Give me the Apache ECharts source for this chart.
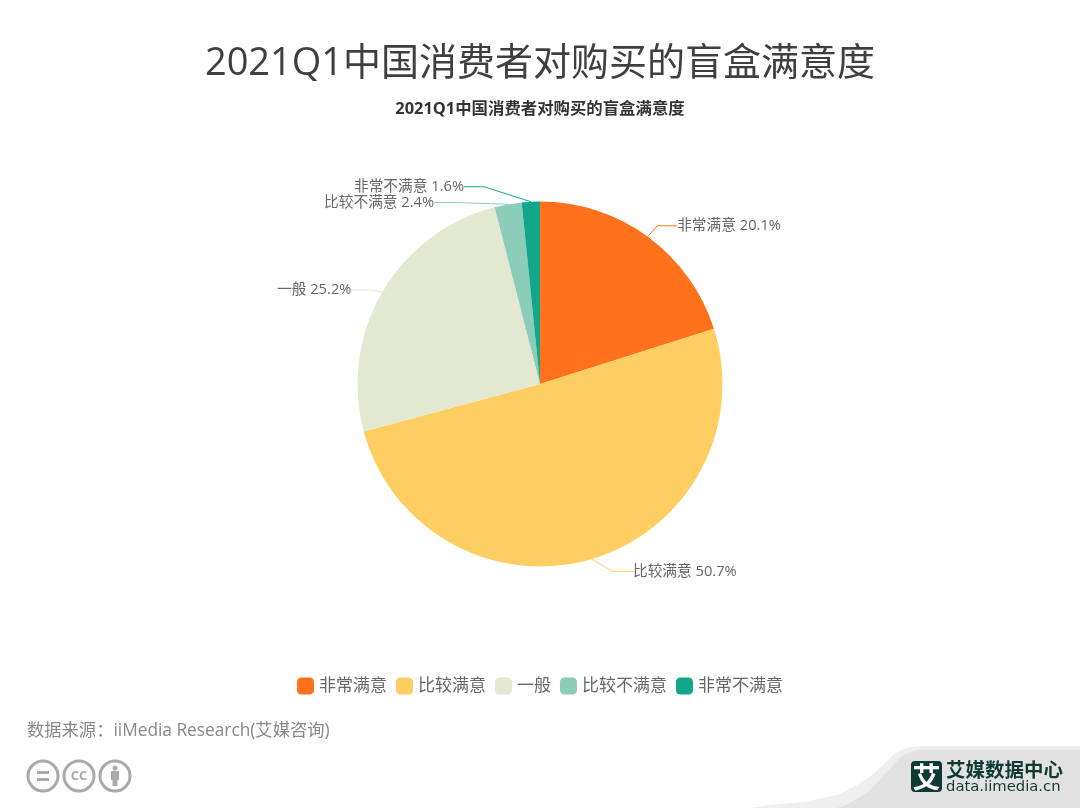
<!DOCTYPE html>
<html><head><meta charset="utf-8">
<style>html,body{margin:0;padding:0;background:#fff}#c{width:1080px;height:808px}</style>
<script src="https://cdn.jsdelivr.net/npm/echarts@6/dist/echarts.min.js"></script>
</head><body><div id="c"></div>
<script>
const categories = ['非常满意','比较满意','一般','比较不满意','非常不满意'];
const values = [20.1,50.7,25.2,2.4,1.6];
const colors = ['#ff711b','#ffce62','#e2e9d0','#8bcdb8','#12a68a'];
const titleText = '2021Q1中国消费者对购买的盲盒满意度';
const sourceText = '数据来源：iiMedia Research(艾媒咨询)';
const FF = '"Open Sans","Noto Sans CJK SC",sans-serif';
const labelShift = [[-17,2],[0,-3],[15,6],[7,0],[-29,1]];
const chart = echarts.init(document.getElementById('c'));
chart.setOption({
  animation:false,
  color:colors,
  title:[
    {text:titleText,left:'center',top:40,textStyle:{fontFamily:FF,fontSize:38,fontWeight:'normal',color:'#3f3f3f'}},
    {text:titleText,left:'center',top:96,textStyle:{fontFamily:FF,fontSize:16.4,fontWeight:'bold',color:'#333'}}
  ],
  legend:{
    data:categories,left:'center',top:672.5,itemWidth:17,itemHeight:17,itemGap:9,icon:'roundRect',
    textStyle:{fontFamily:FF,fontSize:17,color:'#666'}
  },
  series:[{
    type:'pie',center:[540,384],radius:[0,182.5],startAngle:90,
    label:{formatter:'{b} {c}%',fontFamily:FF,fontSize:14.7,color:'#666',padding:[0,6]},
    labelLine:{length:16,length2:20,lineStyle:{width:1}},
    labelLayout:p=>{
      const s=labelShift[p.dataIndex], r=p.labelRect;
      const isRight=p.align==='right';
      return {x:(isRight?r.x+r.width:r.x)+s[0], y:r.y+r.height/2+s[1]};
    },
    emphasis:{disabled:true},
    data:categories.map((n,i)=>({name:n,value:values[i]}))
  }],
  graphic:[
    {type:'text',x:27,y:731,style:{text:sourceText,verticalAlign:'middle',fontFamily:FF,fontSize:17.3,fill:'#888'}},
    {type:'circle',shape:{cx:43,cy:776,r:15},style:{fill:'#fff',stroke:'#aaa',lineWidth:3}},
    {type:'rect',shape:{x:37,y:771,width:12,height:3},style:{fill:'#aaa'}},
    {type:'rect',shape:{x:37,y:778,width:12,height:3},style:{fill:'#aaa'}},
    {type:'circle',shape:{cx:79,cy:776,r:15},style:{fill:'#fff',stroke:'#aaa',lineWidth:3}},
    {type:'text',x:79,y:776,style:{text:'CC',align:'center',verticalAlign:'middle',fontFamily:'"Open Sans"',fontWeight:'bold',fontSize:13,fill:'#aaa'}},
    {type:'circle',shape:{cx:115,cy:776,r:15},style:{fill:'#fff',stroke:'#aaa',lineWidth:3}},
    {type:'circle',shape:{cx:115,cy:768,r:2.5},style:{fill:'#aaa'}},
    {type:'rect',shape:{x:111,y:771,width:8,height:9},style:{fill:'#aaa'}},
    {type:'rect',shape:{x:112.5,y:780,width:5,height:6},style:{fill:'#aaa'}},
    {type:'polygon',shape:{points:[[750,808],[770,805],[803,802],[837,795],[855,786],[870,777],[882,766],[893,755],[901,750],[910,747],[925,746],[1080,746],[1080,808]]},style:{fill:'#efefef'}},
    {type:'polygon',shape:{points:[[835,808],[842,807],[857,799],[870,790],[887,772],[897,761],[905,754],[917,750],[935,750],[1080,750],[1080,808]]},style:{fill:'#e2e2e2'}},
    {type:'rect',shape:{x:911,y:761,width:31,height:31,r:4},style:{fill:'#0f3a33'}},
    {type:'text',x:926.5,y:777,style:{text:'艾',align:'center',verticalAlign:'middle',fontFamily:'"Noto Sans CJK SC"',fontWeight:'bold',fontSize:28,fill:'#fff'}},
    {type:'text',x:946,y:770,style:{text:'艾媒数据中心',verticalAlign:'middle',fontFamily:'"Noto Sans CJK SC"',fontWeight:'bold',fontSize:19.5,fill:'#0f3a33'}},
    {type:'text',x:946,y:787,style:{text:'data.iimedia.cn',verticalAlign:'middle',fontFamily:'"DejaVu Sans"',fontSize:14.8,fill:'#0f3a33'}}
  ]
});
</script></body></html>
